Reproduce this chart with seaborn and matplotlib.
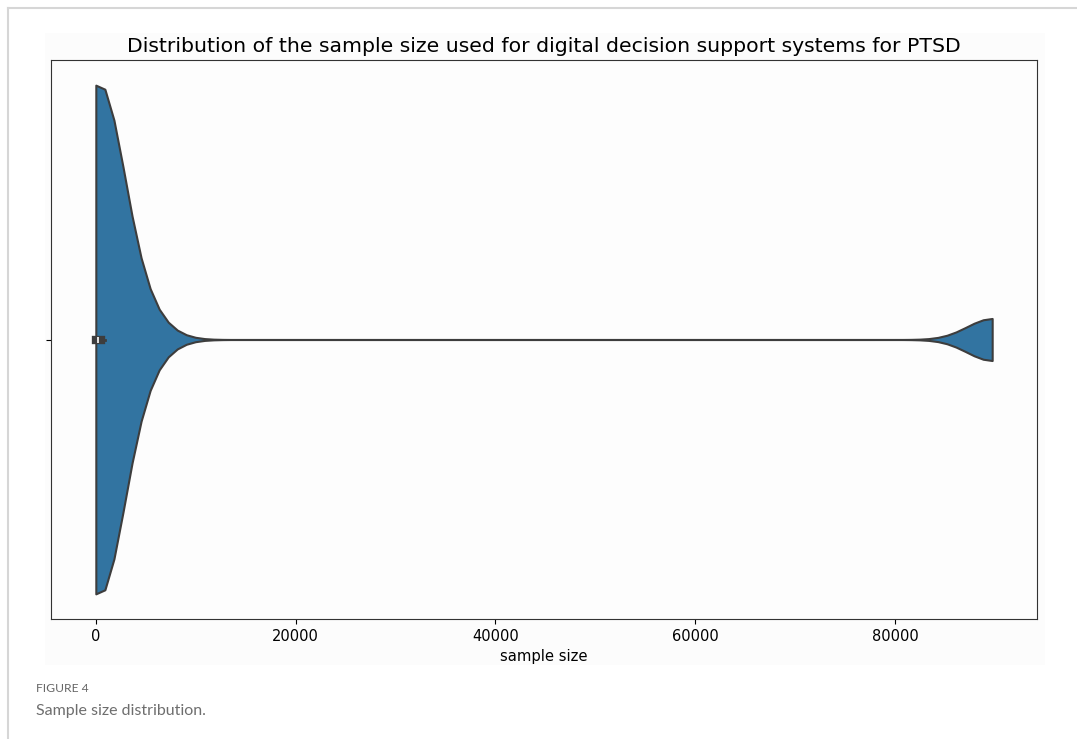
import matplotlib
matplotlib.use("Agg")
import matplotlib.pyplot as plt
import seaborn as sns
import pandas as pd
from matplotlib.lines import Line2D
from matplotlib.patches import Rectangle

# Sample sizes of the reviewed studies
sample_sizes = [8, 15, 40, 60, 90, 130, 180, 230, 300, 420, 600, 900, 4500, 89700]
x_ticks = [0, 20000, 40000, 60000, 80000]
title = "Distribution of the sample size used for digital decision support systems for PTSD"
x_label = "sample size"
caption_label = "FIGURE 4"
caption_text = "Sample size distribution."

W, H = 1077, 739
fig = plt.figure(figsize=(W / 100, H / 100), dpi=100, facecolor="white")

# page frame lines
fig.add_artist(Line2D([8 / W, 1], [1 - 8 / H, 1 - 8 / H], transform=fig.transFigure,
                      color="#d6d6d6", lw=1.5))
fig.add_artist(Line2D([8 / W, 8 / W], [0, 1 - 8 / H], transform=fig.transFigure,
                      color="#d6d6d6", lw=1.5))
# panel background behind the chart
fig.add_artist(Rectangle((45 / W, 1 - 665 / H), 1000 / W, 632 / H, transform=fig.transFigure,
                         facecolor="#fcfcfc", edgecolor="none", zorder=0))

ax = fig.add_axes([51 / W, 1 - 619 / H, 986 / W, 559 / H])
ax.set_facecolor("#fdfdfd")

df = pd.DataFrame({x_label: sample_sizes})
sns.violinplot(data=df, x=x_label, ax=ax, cut=0, bw_adjust=0.18, width=0.91,
               color="#3274a1", saturation=1, linecolor="#3d3d3d", linewidth=1.5,
               inner="box", inner_kws=dict(box_width=6))

ax.set_title(title, fontsize=14.7)
ax.set_xticks(x_ticks)
ax.set_xticklabels([str(t) for t in x_ticks], fontsize=10.5)
ax.set_xlabel(x_label, fontsize=10.6)
ax.set_yticks([0])
ax.set_yticklabels([""])
ax.set_ylabel("")
for s in ax.spines.values():
    s.set_color("#333333")

fig.text(36 / W, 1 - 689 / H, caption_label, fontsize=8.7, color="#666666",
         family="Lato", va="center")
fig.text(36 / W, 1 - 711 / H, caption_text, fontsize=11.5, color="#6e6e6e",
         family="Lato", va="center")

fig.savefig("out.png", dpi=100, facecolor="white")
